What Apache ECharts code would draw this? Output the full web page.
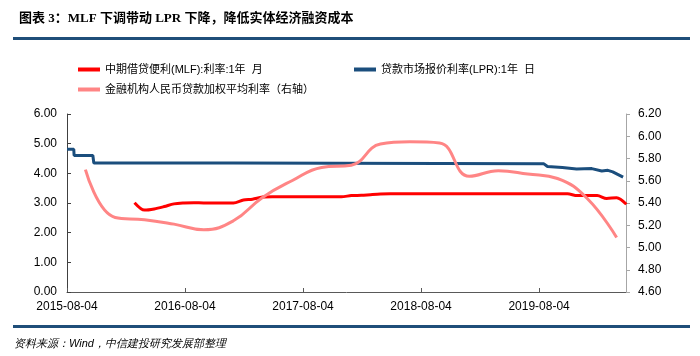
<!DOCTYPE html>
<html>
<head>
<meta charset="utf-8">
<script src="https://cdn.jsdelivr.net/npm/echarts@6/dist/echarts.min.js"></script>
<style>
html,body{margin:0;padding:0;background:#fff;}
#c{width:700px;height:356px;}
</style>
</head>
<body>
<div id="c"></div>
<script>
// ---- data ----
const xStartDate = '2015-08-04';
const xEndDay = 1730;
const xTickLabels = ['2015-08-04', '2016-08-04', '2017-08-04', '2018-08-04', '2019-08-04'];
const leftTickLabels = ['0.00', '1.00', '2.00', '3.00', '4.00', '5.00', '6.00'];
const rightTickLabels = ['4.60', '4.80', '5.00', '5.20', '5.40', '5.60', '5.80', '6.00', '6.20'];

const mlfName = '中期借贷便利(MLF):利率:1年  月';
const lprName = '贷款市场报价利率(LPR):1年  日';
const loanName = '金融机构人民币贷款加权平均利率（右轴）';

// MLF 1Y, monthly (month-end)
const mlfMonths = ['2016-02','2016-03','2016-04','2016-05','2016-06','2016-07','2016-08','2016-09','2016-10','2016-11','2016-12',
  '2017-01','2017-02','2017-03','2017-04','2017-05','2017-06','2017-07','2017-08','2017-09','2017-10','2017-11','2017-12',
  '2018-01','2018-02','2018-03','2018-04','2018-05','2018-06','2018-07','2018-08','2018-09','2018-10','2018-11','2018-12',
  '2019-01','2019-02','2019-03','2019-04','2019-05','2019-06','2019-07','2019-08','2019-09','2019-10','2019-11','2019-12',
  '2020-01','2020-02','2020-03','2020-04'];
const mlfValues = [3.01,2.76,2.80,2.88,2.97,3.00,3.01,3.00,3.00,3.00,3.00,
  3.10,3.13,3.20,3.21,3.21,3.21,3.21,3.21,3.21,3.21,3.21,3.25,
  3.26,3.28,3.30,3.31,3.31,3.31,3.31,3.31,3.31,3.31,3.31,3.31,
  3.31,3.31,3.31,3.31,3.31,3.31,3.31,3.31,3.31,3.31,3.25,3.25,
  3.25,3.15,3.18,2.96];

// LPR 1Y, daily (change points)
const lprDates = ['2015-08-04','2015-08-25','2015-08-26','2015-10-23','2015-10-26','2016-12-31','2017-01-01','2019-08-19','2019-08-30','2019-10-15','2019-11-28','2020-01-14','2020-02-14','2020-03-04','2020-03-19','2020-04-20'];
const lprValues = [4.81,4.81,4.60,4.60,4.35,4.35,4.32,4.32,4.23,4.20,4.15,4.16,4.08,4.10,4.05,3.87];

// Weighted average loan rate, quarterly (right axis)
const loanQuarterEnds = ['2015-09-30','2015-12-31','2016-03-31','2016-06-30','2016-09-30','2016-12-31','2017-03-31','2017-06-30','2017-09-30','2017-12-31',
  '2018-03-31','2018-06-30','2018-09-30','2018-12-31','2019-03-31','2019-06-30','2019-09-30','2019-12-31','2020-03-31'];
const loanValues = [5.70,5.27,5.25,5.21,5.16,5.24,5.45,5.60,5.72,5.74,5.93,5.95,5.94,5.64,5.69,5.66,5.62,5.44,5.09];

// ---- helpers ----
function dayOf(s) {
  const p = s.split('-').map(Number);
  const b = xStartDate.split('-').map(Number);
  return Math.round((Date.UTC(p[0], p[1] - 1, p[2]) - Date.UTC(b[0], b[1] - 1, b[2])) / 86400000);
}
function monthEnd(ym) {
  const p = ym.split('-').map(Number);
  const d = new Date(Date.UTC(p[0], p[1], 0));
  return d.getUTCFullYear() + '-' + String(d.getUTCMonth() + 1).padStart(2, '0') + '-' + String(d.getUTCDate()).padStart(2, '0');
}
const mlfData = mlfMonths.map((m, i) => [dayOf(monthEnd(m)), mlfValues[i]]);
const lprData = lprDates.map((d, i) => [dayOf(d), lprValues[i]]);
const loanData = loanQuarterEnds.map((d, i) => [dayOf(d), loanValues[i]]);

const YEAR = 365.25;
const numFont = '"Liberation Sans", Arial, sans-serif';
const cjkFont = '"Liberation Sans", "Noto Sans CJK SC", sans-serif';

const chart = echarts.init(document.getElementById('c'), null, {renderer: 'canvas'});
chart.setOption({
  animation: false,
  backgroundColor: '#fff',
  title: {
    text: '图表 3：MLF 下调带动 LPR 下降，降低实体经济融资成本',
    left: 14, top: 7,
    textStyle: {fontSize: 13, fontWeight: 'bold', color: '#000', fontFamily: '"Liberation Serif", "Noto Sans CJK SC", serif'}
  },
  graphic: [
    {type: 'line', shape: {x1: 13, y1: 38.5, x2: 690, y2: 38.5}, style: {stroke: '#1F4E79', lineWidth: 3}},
    {type: 'line', shape: {x1: 13, y1: 326.5, x2: 690, y2: 326.5}, style: {stroke: '#1F4E79', lineWidth: 3}},
    {type: 'text', left: 14, top: 338, style: {text: '资料来源：Wind，中信建投研究发展部整理', fontSize: 11, fontStyle: 'italic', fill: '#000', font: 'italic 11px "Liberation Serif", "Noto Sans CJK SC", serif'}}
  ],
  legend: [
    {left: 73, top: 59, icon: 'rect', itemWidth: 22, itemHeight: 4, data: [mlfName],
     textStyle: {fontSize: 11, color: '#000', fontFamily: cjkFont}},
    {left: 349, top: 59, icon: 'rect', itemWidth: 22, itemHeight: 4, data: [lprName],
     textStyle: {fontSize: 11, color: '#000', fontFamily: cjkFont}},
    {left: 73, top: 79, icon: 'rect', itemWidth: 22, itemHeight: 4, data: [loanName],
     textStyle: {fontSize: 11, color: '#000', fontFamily: cjkFont}}
  ],
  grid: {left: 67, right: 74, top: 114, bottom: 64},
  xAxis: {
    type: 'value', min: 0, max: xEndDay, interval: YEAR,
    axisLine: {show: true, lineStyle: {color: '#595959', width: 1}},
    axisTick: {show: true, inside: true, length: 4, lineStyle: {color: '#595959'}},
    splitLine: {show: false},
    axisLabel: {
      margin: 9, fontSize: 12, color: '#000', fontFamily: numFont, showMaxLabel: false,
      formatter: function (v) {
        const i = Math.round(v / YEAR);
        return Math.abs(v - i * YEAR) < 1 && xTickLabels[i] ? xTickLabels[i] : '';
      }
    }
  },
  yAxis: [
    {
      type: 'value', min: 0, max: 6, interval: 1, position: 'left',
      axisLine: {show: true, lineStyle: {color: '#404040', width: 1}},
      axisTick: {show: true, inside: true, length: 4, lineStyle: {color: '#404040'}},
      splitLine: {show: false},
      axisLabel: {margin: 10, fontSize: 12, color: '#000', fontFamily: numFont,
        formatter: v => leftTickLabels[Math.round(v)] || ''}
    },
    {
      type: 'value', min: 4.6, max: 6.2, interval: 0.2, position: 'right',
      axisLine: {show: true, lineStyle: {color: '#A6A6A6', width: 1}},
      axisTick: {show: true, inside: false, length: 4, lineStyle: {color: '#A6A6A6'}},
      splitLine: {show: false},
      axisLabel: {margin: 12, fontSize: 12, color: '#000', fontFamily: numFont,
        formatter: v => rightTickLabels[Math.round((v - 4.6) / 0.2)] || ''}
    }
  ],
  series: [
    {name: mlfName, type: 'line', yAxisIndex: 0, data: mlfData, symbol: 'none', smooth: 0.3,
     lineStyle: {color: '#FF0000', width: 3}, itemStyle: {color: '#FF0000'}},
    {name: lprName, type: 'line', yAxisIndex: 0, data: lprData, symbol: 'none',
     lineStyle: {color: '#1B4E7D', width: 3}, itemStyle: {color: '#1B4E7D'}},
    {name: loanName, type: 'line', yAxisIndex: 1, data: loanData, symbol: 'none', smooth: 0.45,
     lineStyle: {color: '#FF8585', width: 3}, itemStyle: {color: '#FF8585'}}
  ]
});
</script>
</body>
</html>
